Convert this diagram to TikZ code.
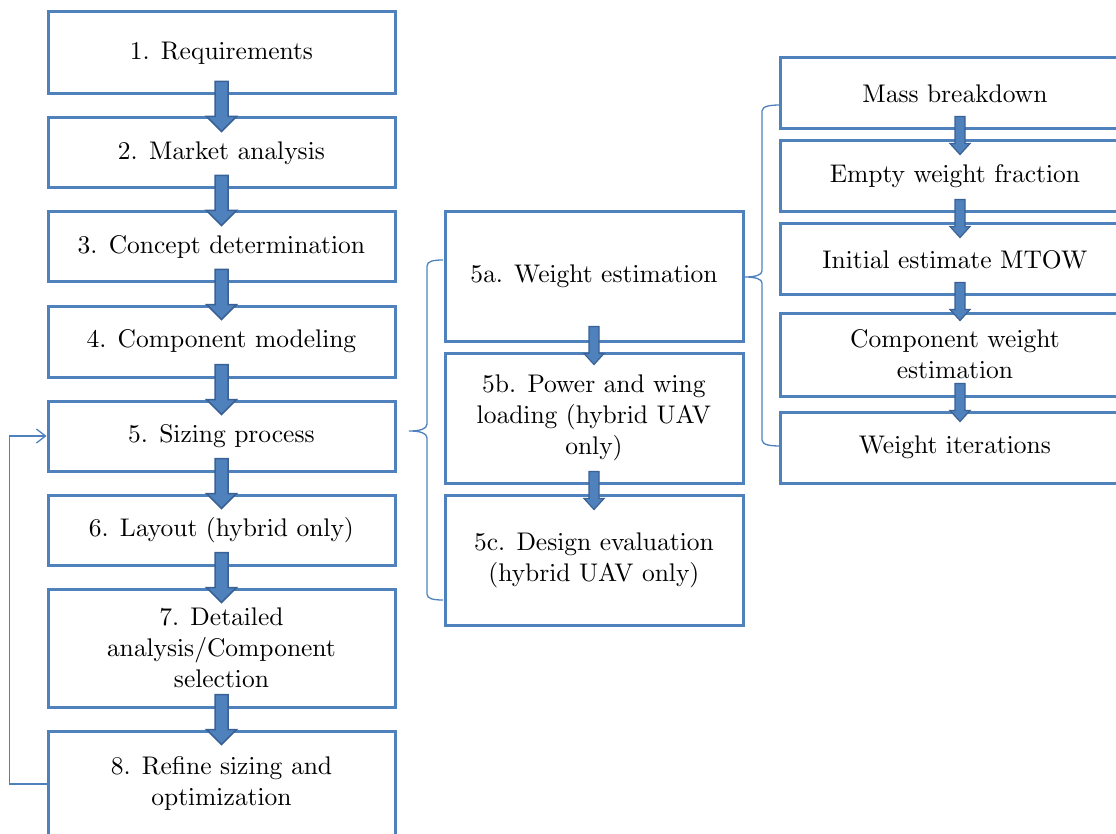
\documentclass[tikz,border=0pt]{standalone}
\usetikzlibrary{calc,arrows.meta}
\definecolor{boxblue}{HTML}{4F81BD}
\definecolor{arrowedge}{HTML}{3A6195}

% text face: the 10pt roman design, scaled up
\font\labelfont=cmr10 at 25.5pt

% block arrows pointing down, #1 = top centre of the shaft
\newcommand{\bigdown}[1]{%
  \draw[blockarrow] (#1) ++(-6.5,0) -- ++(13,0) -- ++(0,35) -- ++(8.5,0)
    -- ++(-15,15) -- ++(-15,-15) -- ++(8.5,0) -- cycle;}
\newcommand{\smalldown}[1]{%
  \draw[blockarrow,line width=1.2pt] (#1) ++(-5,0) -- ++(10,0) -- ++(0,27) -- ++(5,0)
    -- ++(-10,11) -- ++(-10,-11) -- ++(5,0) -- cycle;}

\begin{document}
\begin{tikzpicture}[x=1pt,y=-1pt,
  box/.style={draw=boxblue,line width=3pt,fill=white,align=center,
    inner sep=0pt,font={\labelfont\baselineskip=31pt}},
  colA/.style={box,minimum width=347pt},
  colB/.style={box,minimum width=298pt,minimum height=130pt},
  colC/.style={box,minimum width=350pt},
  blockarrow/.style={fill=boxblue,draw=arrowedge,line width=1.5pt,line join=miter},
  brace/.style={draw=boxblue,line width=1.3pt},
  feedback/.style={draw=boxblue,line width=1.3pt,
    -{Straight Barb[length=9pt,width=14pt,line width=1.3pt]}}]
\useasboundingbox (0,0) rectangle (1116,834);

% main design sequence
\node[colA,minimum height=82pt] (s1) at (221.5,53) {1. Requirements};
\node[colA,minimum height=70pt] (s2) at (221.5,153) {2. Market analysis};
\node[colA,minimum height=70pt] (s3) at (221.5,247) {3. Concept determination};
\node[colA,minimum height=71pt] (s4) at (221.5,341.5) {4. Component modeling};
\node[colA,minimum height=70pt] (s5) at (221.5,436) {5. Sizing process};
\node[colA,minimum height=70pt] (s6) at (221.5,530) {6. Layout (hybrid only)};
\node[colA,minimum height=118pt] (s7) at (221.5,648) {7. Detailed\\analysis/Component\\selection};
\node[colA,minimum height=106pt] (s8) at (221.5,784) {8. Refine sizing and\\optimization};

% sizing process steps
\node[colB,minimum height=129pt] (a) at (594,276.5) {5a. Weight estimation};
\node[colB] (b) at (594,418) {5b. Power and wing\\loading (hybrid UAV\\only)};
\node[colB] (c) at (594,560) {5c. Design evaluation\\(hybrid UAV only)};

% weight estimation steps
\node[colC,minimum height=71pt] (w1) at (955,93.5) {Mass breakdown};
\node[colC,minimum height=71pt] (w2) at (955,176.5) {Empty weight fraction};
\node[colC,minimum height=71pt] (w3) at (955,259.5) {Initial estimate MTOW};
\node[colC,minimum height=83pt] (w4) at (955,354.5) {Component weight\\estimation};
\node[colC,minimum height=71pt] (w5) at (955,447.5) {Weight iterations};

% sequence arrows
\bigdown{$(s1.south)+(0,-14)$}
\bigdown{$(s2.south)+(0,-14)$}
\bigdown{$(s3.south)+(0,-14)$}
\bigdown{$(s4.south)+(0,-14)$}
\bigdown{$(s5.south)+(0,-14)$}
\bigdown{$(s6.south)+(0,-14)$}
\bigdown{$(s7.south)+(0,-14)$}

\smalldown{$(a.south)+(0,-16)$}
\smalldown{$(b.south)+(0,-13)$}

\smalldown{$(w1.south)+(5,-14)$}
\smalldown{$(w2.south)+(5,-14)$}
\smalldown{$(w3.south)+(5,-14)$}
\smalldown{$(w4.south)+(5,-14)$}

% braces grouping the sub-steps
\draw[brace] (443,260) .. controls (434,260) and (427,261) .. (427,266)
  -- (427,424) .. controls (427,429) and (420,431) .. (409,431)
  .. controls (420,431) and (427,433) .. (427,438)
  -- (427,594) .. controls (427,599) and (434,600) .. (443,600);
\draw[brace] (780,105) .. controls (771,105) and (762,106) .. (762,111)
  -- (762,271) .. controls (762,275) and (755,277) .. (745,277)
  .. controls (755,277) and (762,279) .. (762,283)
  -- (762,440) .. controls (762,445) and (771,446) .. (780,446);

% feedback loop from refinement back to sizing
\draw[feedback] (s8.west) -- ++(-37,0) |- (s5.west);
\end{tikzpicture}
\end{document}
